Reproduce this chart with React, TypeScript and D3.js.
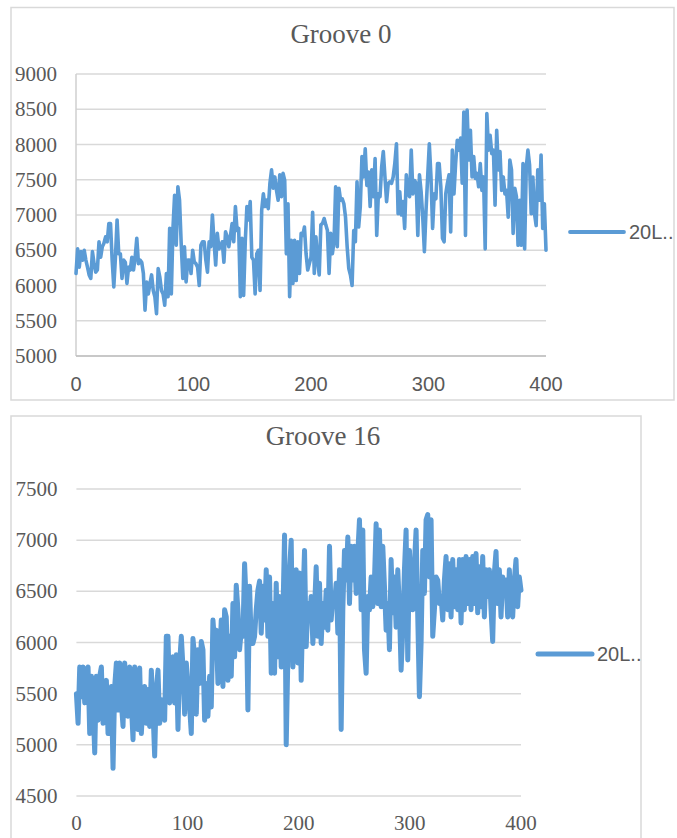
import React, { useEffect, useRef } from "react";
import * as d3 from "d3";

// values (evenly spaced over 0..400)
const groove0 = [
  6170, 6520, 6260, 6480, 6360, 6500, 6360, 6260, 6150, 6100, 6480, 6310, 6190, 6220, 6620, 6400, 6550, 6600, 6690, 6620,
  6880, 6880, 6360, 5980, 6400, 6930, 6450, 6450, 6100, 6360, 6330, 6030, 6260, 6220, 6400, 6220, 6400, 6670, 6310, 6360,
  6330, 6170, 5650, 6050, 5880, 6030, 6150, 5930, 5840, 5600, 6240, 6120, 5930, 5880, 5720, 6170, 5840, 6810, 5880, 6810,
  7280, 6570, 7400, 7210, 6600, 6100, 6550, 6050, 6360, 6360, 6170, 6500, 6330, 6310, 6260, 6000, 6570, 6620, 6620, 6360,
  6190, 6620, 6550, 7000, 6620, 6290, 6740, 6520, 6550, 6620, 6330, 6760, 6690, 6550, 6710, 6880, 6620, 7120, 6780, 6810,
  5840, 6670, 5860, 6620, 7120, 6930, 7190, 6400, 6360, 5880, 6450, 6500, 5930, 7070, 7300, 7120, 7210, 7090, 7450, 7640,
  7380, 7540, 7350, 7210, 7570, 7260, 7590, 7490, 6450, 7160, 5840, 6640, 6030, 6640, 6070, 6620, 6170, 6740, 6710, 6830,
  6450, 6220,
  6310, 6400, 7040, 6170, 6690, 6360, 6150, 6860, 6880, 6950, 6860, 6780, 6170, 6740, 6450, 6620, 7400, 6550, 7380, 7210,
  7230, 7160, 6970, 6550, 6240, 6150, 6000, 6780, 6620, 7470, 6830, 7120, 7830, 7540, 7940, 7420, 7610, 7120, 7640, 7260,
  7800, 6710, 7300, 7260, 7680, 7900, 7540, 7190, 7450, 7470, 7450, 7540, 7730, 8010, 7020, 7330, 7000, 7190, 6810, 7570,
  7300, 7260, 7920, 7300, 7490, 7450, 6710, 7570, 7330, 6970, 6480, 7070, 7540, 8010, 7540, 6810, 7300, 7230, 7730, 7730,
  7400, 6670, 6620, 7300, 7450, 7570, 6760, 7920, 7300, 7730, 8060, 7920, 8090, 7450, 8460, 6710, 8490, 7780, 8200, 7540,
  7830, 7520, 7590, 7400, 7730, 7350, 7540, 6520, 8440, 7920, 8130, 7870, 7920, 7140, 8200, 7640, 7900, 7350, 7540, 7300,
  7350, 6970, 7780, 7640, 6740, 7380, 7260, 6570, 7210, 6570, 7730, 6520, 7680, 7920, 7710, 7020, 7540, 7020, 6850, 7640,
  7210, 7850, 6810, 7160, 6500,
];

const groove16 = [
  5500, 5210, 5760, 5470, 5760, 5410, 5730, 5760, 5110, 5670, 5410, 4920, 5670, 5240, 5670, 5760, 5210, 5470, 5630, 5110,
  5410, 5570, 4770, 5570, 5800, 5340, 5800, 5410, 5180, 5800, 5470, 5280, 5760, 5410, 5050, 5760, 5410, 5150, 5750, 5110,
  5410, 5570, 5210, 5540, 5180, 5730, 5340, 4890, 5540, 5730, 5210, 5440, 5410, 5240, 6060, 6060, 5410, 5800, 5860, 5410,
  5880, 5150, 5800, 6060, 5760, 5300, 5800, 5570, 5370, 5110, 6040, 5860, 5300, 5930, 5600, 6010, 5930, 5240, 5600, 5280,
  5670, 5370, 6220, 5990, 6120, 5600, 5830, 6220, 5570, 6320, 6250, 5630, 6060, 5670, 6380, 5860, 6560, 6320, 5930, 6120,
  6060, 6770, 6380, 5340, 6550, 5990, 5990, 6060, 6320, 6510, 6600, 6090, 6550, 6220, 6710, 6060, 6640, 5700, 6380, 5700,
  6580, 5860, 6450, 5760, 6250, 7050, 5000, 5860, 6710, 7000, 5760, 6220, 6710, 5800, 6680, 5630, 6380, 6900, 5960, 6380,
  6220, 6450, 5990, 6320, 6740, 6060, 6580, 5990, 6380, 6150, 6510, 6120, 6940, 6220, 6450, 6380, 6580, 6090, 6710, 5150,
  6320, 6900, 6610, 7030, 6380, 6940, 6610, 6940, 6480, 6870, 7200, 6320, 7100, 5930, 5700, 6450, 6320, 6640, 6350, 6610,
  7160, 6380, 7100, 6350, 6940, 6550, 6120, 6380, 5930, 6810, 6290, 6640, 6150, 6710, 6320, 5730, 6120, 6710, 7100, 5830,
  6900, 6450, 6320, 6770, 7100, 6250, 5470, 5990, 6900, 6480, 7200, 7250, 6640, 7200, 6060, 6320, 6640, 6610, 6380, 6450,
  6220, 6610, 6840, 6320, 6770, 6250, 6810, 6350, 6710, 6320, 6810, 6190, 6810, 6320, 6840, 6380, 6810, 6320, 6840, 6380,
  6870, 6290, 6740, 6350, 6840, 6250, 6710, 6450, 6710, 6320, 6010, 6680, 6890, 6380, 6710, 6250, 6640, 6480, 6610, 6250,
  6710, 6350, 6250, 6610, 6810, 6350, 6640, 6510,
];

const xTicks = [0, 100, 200, 300, 400];
const yTicks0 = [5000, 5500, 6000, 6500, 7000, 7500, 8000, 8500, 9000];
const yTicks16 = [4500, 5000, 5500, 6000, 6500, 7000, 7500];
const seriesName = "20L..";

const SERIF = "'Liberation Serif', 'Times New Roman', serif";
const SANS = "'Liberation Sans', Arial, sans-serif";
const TXT = "#595959";
const BLUE = "#5B9BD5";
const GRID = "#d9d9d9";

function Panel({ title, values, yTicks, box, plot, titleY, xLabelY, xFont, xSize, legend, lineWidth, axisLines }) {
  const ref = useRef(null);

  useEffect(() => {
    const g = d3.select(ref.current);
    g.selectAll("*").remove();

    const x = d3.scaleLinear().domain([0, 400]).range([plot.left, plot.right]);
    const y = d3
      .scaleLinear()
      .domain(d3.extent(yTicks))
      .range([plot.bottom, plot.top]);

    // chart frame
    g.append("rect")
      .attr("x", box.x)
      .attr("y", box.y)
      .attr("width", box.w)
      .attr("height", box.h)
      .attr("fill", "#fff")
      .attr("stroke", GRID)
      .attr("stroke-width", 1.5);

    g.append("text")
      .attr("x", box.titleX)
      .attr("y", titleY)
      .attr("text-anchor", "middle")
      .attr("font-family", SERIF)
      .attr("font-size", 27)
      .attr("fill", TXT)
      .text(title);

    // gridlines
    g.selectAll(".grid")
      .data(yTicks)
      .join("line")
      .attr("class", "grid")
      .attr("x1", plot.left)
      .attr("x2", plot.right)
      .attr("y1", (d) => y(d))
      .attr("y2", (d) => y(d))
      .attr("stroke", GRID)
      .attr("stroke-width", 1.5);

    if (axisLines) {
      g.append("line")
        .attr("x1", plot.left)
        .attr("x2", plot.left)
        .attr("y1", plot.top)
        .attr("y2", plot.bottom)
        .attr("stroke", "#cfcfcf")
        .attr("stroke-width", 1.5);
      g.append("line")
        .attr("x1", plot.left)
        .attr("x2", plot.right)
        .attr("y1", plot.bottom)
        .attr("y2", plot.bottom)
        .attr("stroke", "#bfbfbf")
        .attr("stroke-width", 1.5);
    }

    // y labels
    g.selectAll(".ylab")
      .data(yTicks)
      .join("text")
      .attr("class", "ylab")
      .attr("x", plot.left - 19)
      .attr("y", (d) => y(d))
      .attr("dy", "0.34em")
      .attr("text-anchor", "end")
      .attr("font-family", SERIF)
      .attr("font-size", 21)
      .attr("fill", TXT)
      .text((d) => d);

    // x labels
    g.selectAll(".xlab")
      .data(xTicks)
      .join("text")
      .attr("class", "xlab")
      .attr("x", (d) => x(d))
      .attr("y", xLabelY)
      .attr("text-anchor", "middle")
      .attr("font-family", xFont)
      .attr("font-size", xSize)
      .attr("fill", TXT)
      .text((d) => d);

    const n = values.length;
    const line = d3
      .line()
      .x((d, i) => x((i * 400) / (n - 1)))
      .y((d) => y(d));

    g.append("path")
      .attr("d", line(values))
      .attr("fill", "none")
      .attr("stroke", BLUE)
      .attr("stroke-width", lineWidth)
      .attr("stroke-linejoin", "round")
      .attr("stroke-linecap", "round");

    // legend
    g.append("line")
      .attr("x1", legend.x1)
      .attr("x2", legend.x2)
      .attr("y1", legend.y)
      .attr("y2", legend.y)
      .attr("stroke", BLUE)
      .attr("stroke-width", legend.w)
      .attr("stroke-linecap", "round");
    g.append("text")
      .attr("x", legend.x2 + 5)
      .attr("y", legend.y)
      .attr("dy", "0.36em")
      .attr("font-family", SANS)
      .attr("font-size", 20)
      .attr("fill", TXT)
      .text(seriesName);
  }, [title, values, yTicks, box, plot, titleY, xLabelY, xFont, xSize, legend, lineWidth, axisLines]);

  return <g ref={ref} />;
}

export default function App() {
  return (
    <svg
      width={677}
      height={838}
      style={{ position: "absolute", left: 0, top: 0, background: "#fff" }}
    >
      <Panel
        title="Groove 0"
        values={groove0}
        yTicks={yTicks0}
        box={{ x: 11, y: 7.5, w: 663, h: 392.5, titleX: 341 }}
        plot={{ left: 76, right: 546, top: 74, bottom: 356 }}
        titleY={43}
        xLabelY={391}
        xFont={SANS}
        xSize={20}
        legend={{ x1: 570, x2: 624, y: 232, w: 3.8 }}
        lineWidth={3.6}
        axisLines={true}
      />
      <Panel
        title="Groove 16"
        values={groove16}
        yTicks={yTicks16}
        box={{ x: 11, y: 416, w: 630, h: 440, titleX: 323 }}
        plot={{ left: 76.4, right: 521, top: 489, bottom: 796 }}
        titleY={445}
        xLabelY={830}
        xFont={SERIF}
        xSize={21}
        legend={{ x1: 538, x2: 592, y: 654, w: 5 }}
        lineWidth={5}
        axisLines={false}
      />
    </svg>
  );
}
